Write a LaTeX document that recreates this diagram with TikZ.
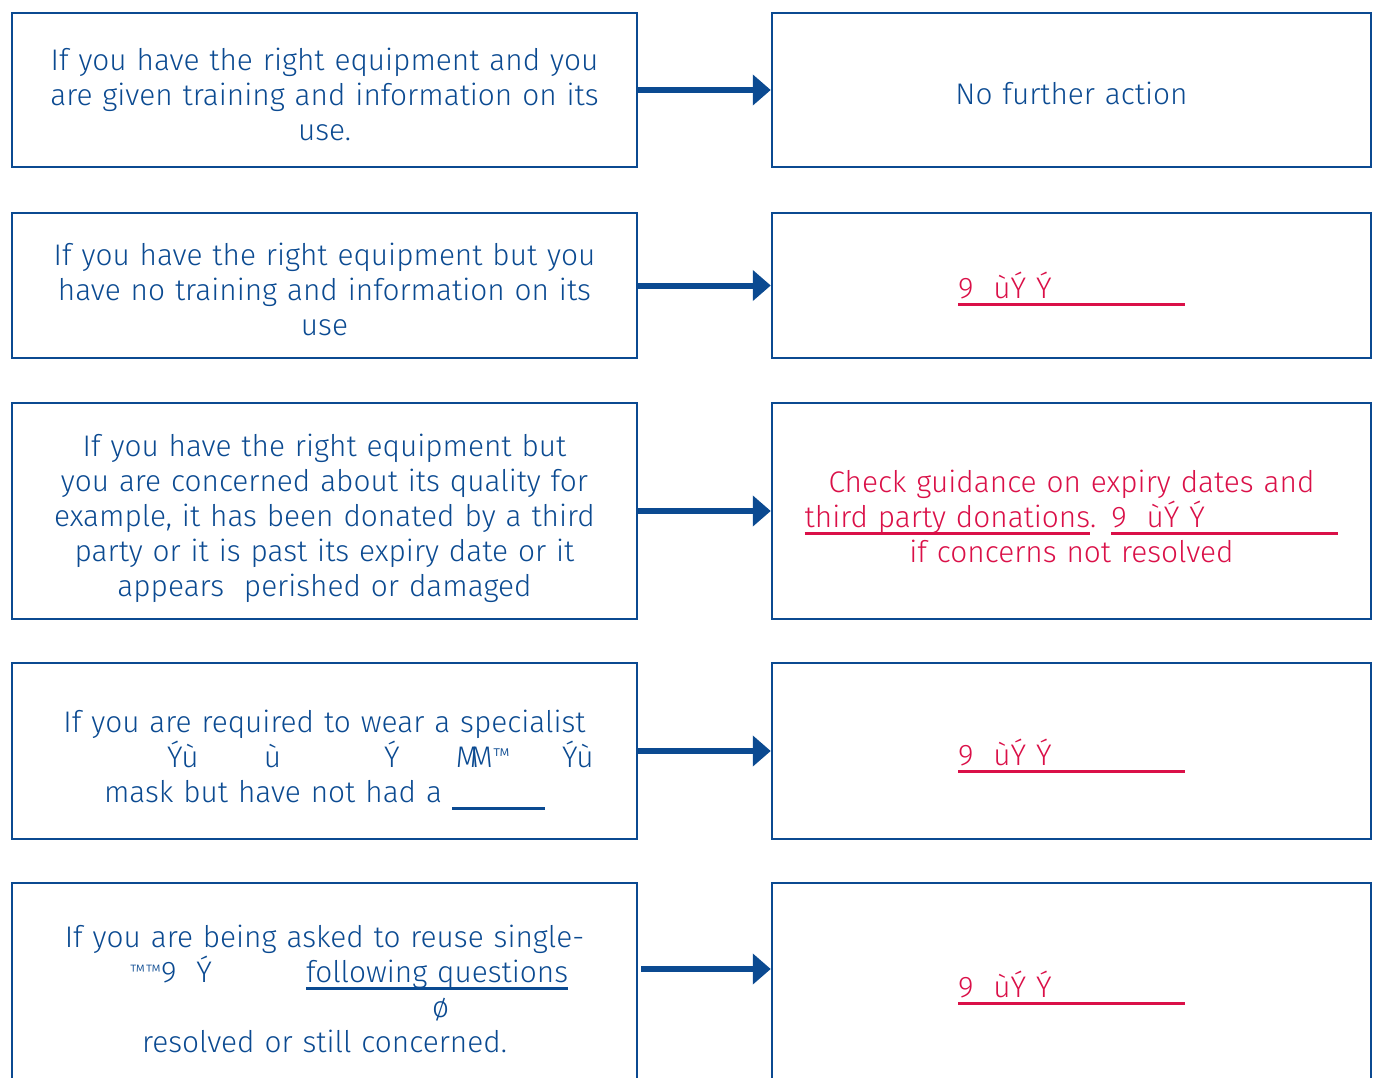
\documentclass[tikz,border=0pt]{standalone}
\usepackage{fontspec}
\setmainfont{Fira Sans}[UprightFont=* Light]
\usetikzlibrary{arrows.meta,positioning}
\definecolor{ppeblue}{RGB}{11,74,145}
\definecolor{ppered}{RGB}{218,16,72}
\newcommand{\ulbox}[2]{\leavevmode\rlap{\rule[-7.5pt]{#1}{3pt}}\makebox[#1][l]{#2}}
\newcommand{\ultext}[1]{\leavevmode\setbox0=\hbox{#1}\rlap{\rule[-7.5pt]{\wd0}{3pt}}\box0}
\tikzset{
qbox/.style={draw=ppeblue,line width=2.5pt,minimum width=625pt,minimum height=#1,inner sep=0pt},
abox/.style={draw=ppeblue,line width=2.5pt,minimum width=599pt,minimum height=#1,inner sep=0pt},
qtext/.style={text=ppeblue,align=center,text width=620pt,inner sep=0pt,anchor=north,font=\fontsize{29.8}{35}\selectfont},
atext/.style={text=ppered,align=center,text width=590pt,inner sep=0pt,font=\fontsize{29.8}{35}\selectfont},
flow/.style={draw=ppeblue,line width=6pt,-{Triangle[length=18pt,width=30pt]}},
}
\begin{document}
\begin{tikzpicture}[x=1pt,y=-1pt]
\clip (0,0) rectangle (1378,1077);
% question boxes
\node[qbox=154pt] (q1) at (324.5,90) {};
\node[qbox=145pt] (q2) at (324.5,285.5) {};
\node[qbox=216pt] (q3) at (324.5,511) {};
\node[qbox=176pt] (q4) at (324.5,751) {};
\node[qbox=242pt] (q5) at (324.5,1004) {};
% action boxes
\node[abox=154pt,right=132.5pt of q1] (a1) {};
\node[abox=145pt,right=132.5pt of q2] (a2) {};
\node[abox=216pt,right=132.5pt of q3] (a3) {};
\node[abox=176pt,right=132.5pt of q4] (a4) {};
\node[abox=242pt,right=132.5pt of q5] (a5) {};
% question texts
\node[qtext] (q1t) at ([yshift=-36pt]q1.north) {If you have the right equipment and you\\ are given training and information on its\\ use.};
\node[qtext] (q2t) at ([yshift=-31pt]q2.north) {If you have the right equipment but you\\ have no training and information on its\\ use};
\node[qtext] (q3t) at ([yshift=-32pt]q3.north) {If you have the right equipment but\\ you are concerned about its quality for\\ example, it has been donated by a third\\ party or it is past its expiry date or it\\ appears\ \ perished or damaged};
\node[qtext] (q4t) at ([yshift=-48pt]q4.north) {If you are required to wear a specialist\\
  \makebox[540pt][l]{\rlap{\hspace*{112.5pt}Ýù}\rlap{\hspace*{209.5pt}ù}\rlap{\hspace*{329.5pt}Ý}\rlap{\hspace*{401.5pt}M\kern-9pt M\raisebox{5pt}{\fontsize{20}{20}\selectfont ™}}\rlap{\hspace*{507.5pt}Ýù}}\\
  mask but have not had a \rule[-8pt]{93pt}{3pt}};
\node[qtext] (q5t) at ([yshift=-43pt]q5.north) {If you are being asked to reuse single-\\
  \makebox[540pt][l]{\rlap{\hspace*{75.5pt}\raisebox{5pt}{\fontsize{18}{18}\selectfont ™™}9\ \ Ý}\rlap{\hspace*{251.5pt}\ultext{following questions}}}\\
  \makebox[540pt][l]{\hspace*{377.5pt}ø}\\
  resolved or still concerned.};
% action texts
\node[atext,text=ppeblue,anchor=base] (a1t) at ([yshift=-92.5pt]a1.north) {No further action};
\node[atext,anchor=base] (a2t) at ([yshift=-87pt]a2.north) {\ulbox{227pt}{9\ \ ùÝ Ý}};
\node[atext,anchor=north] (a3t) at ([yshift=-68pt]a3.north) {Check guidance on expiry dates and\\ \ultext{third party donations}. \ulbox{227pt}{9\ \ ùÝ Ý}\\ if concerns not resolved};
\node[atext,anchor=base] (a4t) at ([yshift=-104pt]a4.north) {\ulbox{227pt}{9\ \ ùÝ Ý}};
\node[atext,anchor=base] (a5t) at ([yshift=-116pt]a5.north) {\ulbox{227pt}{9\ \ ùÝ Ý}};
% arrows
\draw[flow] (q1) -- (a1);
\draw[flow] (q2) -- (a2);
\draw[flow] (q3) -- (a3);
\draw[flow] (q4) -- (a4);
\draw[flow,shorten <=3pt] ([yshift=35pt]q5.east) -- ([yshift=35pt]a5.west);
\end{tikzpicture}
\end{document}
